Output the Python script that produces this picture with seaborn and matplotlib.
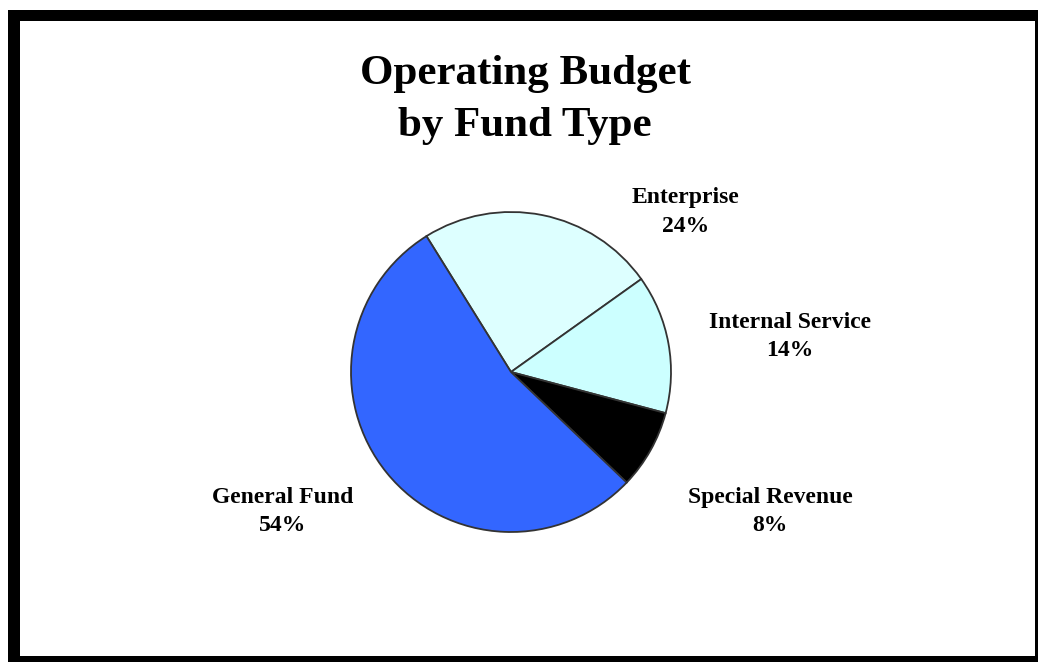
import matplotlib
matplotlib.use("Agg")
import matplotlib.pyplot as plt
from matplotlib.patches import Rectangle
import seaborn as sns

# Fund shares, clockwise from the top-left boundary
funds = ["Enterprise", "Internal Service", "Special Revenue", "General Fund"]
shares = [24, 14, 8, 54]
colors = ["#DDFFFF", "#CCFFFF", "#000000", "#3366FF"]
# label anchor points in pie units (radius = 1)
label_xy = [(1.09, 1.0), (1.745, 0.22), (1.62, -0.87), (-1.43, -0.87)]
title_lines = ["Operating Budget", "by Fund Type"]

sns.set_theme(style="white")
plt.rcParams["font.family"] = ["Liberation Serif", "DejaVu Serif"]

W, H = 1038, 662
fig = plt.figure(figsize=(W / 100, H / 100), dpi=100)
fig.patch.set_facecolor("white")

# thick black frame built from four bars (pixel boxes: x0, y0_top, x1, y1_bottom)
frame_bars = [(8, 10, 20, 662), (8, 10, 1038, 21),
              (1035, 10, 1038, 662), (8, 656, 1038, 662)]
for x0, t, x1, b in frame_bars:
    fig.patches.append(Rectangle((x0 / W, 1 - b / H), (x1 - x0) / W, (b - t) / H,
                                 transform=fig.transFigure, facecolor="black",
                                 edgecolor="none", zorder=0))

cx, cy, half = 511, H - 372, 200
ax = fig.add_axes([(cx - half) / W, (cy - half) / H, 2 * half / W, 2 * half / H])
ax.set_xlim(-1.25, 1.25)
ax.set_ylim(-1.25, 1.25)
ax.set_aspect("equal")
ax.axis("off")

ax.pie(shares, colors=colors, startangle=121.9, counterclock=False,
       radius=1.0, wedgeprops=dict(edgecolor="#333333", linewidth=1.3))

for name, val, (lx, ly) in zip(funds, shares, label_xy):
    ax.text(lx, ly, f"{name}\n{val}%", ha="center", va="center",
            fontsize=17, fontweight="bold", linespacing=1.45,
            clip_on=False, color="black")

for line, ypx in zip(title_lines, [74, 126]):
    fig.text(525 / W, 1 - ypx / H, line, ha="center", va="center",
             fontsize=31, fontweight="bold", color="black")

fig.savefig("out.png", dpi=100, facecolor="white")
